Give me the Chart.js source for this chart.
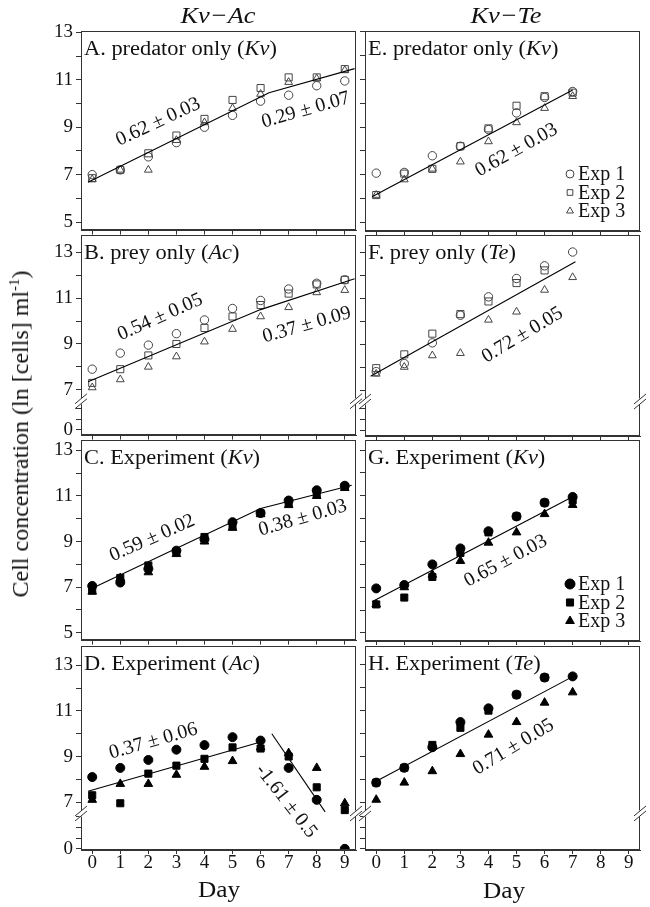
<!DOCTYPE html>
<html>
<head>
<meta charset="utf-8">
<script src="https://cdn.jsdelivr.net/npm/chart.js@4.4.1/dist/chart.umd.min.js"></script>
<style>
  body { margin: 0; width: 650px; height: 907px; position: relative; overflow: hidden; background: #fff;
         font-family: "Liberation Serif", "Times New Roman", serif; color: #111; }
  canvas { position: absolute; }
  .t { position: absolute; white-space: nowrap; line-height: 1; z-index: 2; }
  .lt { transform-origin: left center; transform: translateY(-50%) scaleX(1.12); font-size: 20px; }
  .ct { transform-origin: center center; transform: translate(-50%, -50%) scaleX(1.1); }
</style>
</head>
<body>
<div class="t ct" style="left:218px;top:15px;font-size:24px;font-style:italic">Kv−Ac</div>
<div class="t ct" style="left:506px;top:15px;font-size:24px;font-style:italic">Kv−Te</div>
<div class="t" style="left:20px;top:434px;font-size:24px;transform:translate(-50%,-50%) rotate(-90deg)">Cell concentration (ln [cells] ml<span style="font-size:15px;position:relative;top:-9px">-1</span>)</div>
<div class="t ct" style="left:219px;top:889px;font-size:23px">Day</div>
<div class="t ct" style="left:504px;top:890px;font-size:23px">Day</div>

<script>
// ---------- data (ln cells/ml), days 0..9 ----------
const days = [0, 1, 2, 3, 4, 5, 6, 7, 8, 9];

// Kv-Ac column
const aExp1 = [7.0, 7.2, 7.75, 8.35, 9.0, 9.5, 10.1, 10.35, 10.75, 10.95];
const aExp2 = [6.85, 7.2, 7.9, 8.65, 9.35, 10.15, 10.65, 11.1, 11.1, 11.45];
const aExp3 = [6.8, 7.2, 7.2, 8.45, 9.2, 9.8, 10.4, 10.9, 11.05, 11.4];
const aFit = [[-0.15, 6.68], [6.3, 10.45], [9.35, 11.47]];

const bExp1 = [7.9, 8.6, 8.95, 9.45, 10.05, 10.55, 10.9, 11.4, 11.65, 11.8];
const bExp2 = [7.3, 7.9, 8.5, 9.0, 9.7, 10.2, 10.7, 11.2, 11.6, 11.8];
const bExp3 = [7.1, 7.45, 8.0, 8.45, 9.1, 9.65, 10.2, 10.6, 11.25, 11.35];
const bFit = [[-0.15, 7.35], [6.0, 10.5], [9.35, 11.85]];

const cExp1 = [7.05, 7.2, 7.8, 8.6, 9.1, 9.85, 10.25, 10.8, 11.25, 11.45];
const cExp2 = [6.85, 7.4, 7.95, 8.55, 9.2, 9.7, 10.25, 10.7, 11.1, 11.4];
const cExp3 = [6.8, 7.4, 7.65, 8.45, 9.0, 9.6, 10.2, 10.6, 11.0, 11.35];
const cFit = [[-0.15, 6.86], [6.0, 10.45], [9.25, 11.47]];

const dExp1 = [8.1, 8.5, 8.85, 9.3, 9.5, 9.85, 9.7, 8.5, 7.1, 0];
const dExp2 = [7.3, 6.95, 8.25, 8.6, 8.9, 9.4, 9.35, 9.0, 7.65, 6.65];
const dExp3 = [7.1, 7.8, 7.8, 8.2, 8.55, 8.8, 9.4, 9.15, 8.5, 6.95];
const dFit1 = [[-0.15, 7.48], [6.0, 9.64]];
const dFit2 = [[6.4, 10.0], [8.3, 6.57]];

// Kv-Te column (days 0..7)
const eExp1 = [7.07, 7.1, 7.8, 8.2, 8.9, 9.6, 10.25, 10.5];
const eExp2 = [6.15, 7.05, 7.25, 8.2, 8.95, 9.9, 10.3, 10.45];
const eExp3 = [6.15, 6.8, 7.25, 7.55, 8.4, 9.2, 9.8, 10.3];
const eFit = [[-0.15, 6.08], [7.0, 10.56]];

const fExp1 = [7.8, 8.15, 9.05, 10.25, 11.05, 11.85, 12.4, 13.0];
const fExp2 = [7.95, 8.55, 9.45, 10.3, 10.85, 11.65, 12.2, null];
const fExp3 = [7.7, 8.0, 8.5, 8.6, 10.05, 10.4, 11.35, 11.9];
const fFit = [[-0.2, 7.6], [7.1, 12.58]];

const gExp1 = [6.95, 7.1, 8.0, 8.7, 9.45, 10.1, 10.7, 10.95];
const gExp2 = [6.25, 6.55, 7.45, 8.5, 9.4, 10.1, 10.7, 10.8];
const gExp3 = [6.25, 7.0, 7.55, 8.15, 8.95, 9.4, 10.2, 10.6];
const gFit = [[-0.15, 6.37], [7.05, 10.99]];

const hExp1 = [7.85, 8.5, 9.4, 10.5, 11.1, 11.7, 12.45, 12.5];
const hExp2 = [7.85, 8.5, 9.5, 10.25, 11.0, 11.7, 12.45, null];
const hExp3 = [7.1, 7.85, 8.35, 9.1, 9.95, 10.5, 11.35, 11.8];
const hFit = [[-0.15, 7.81], [7.0, 12.49]];

const expNames = ["Exp 1", "Exp 2", "Exp 3"];
const pointShapes = ["circle", "rect", "triangle"];

// ---------- panel layout ----------
const rows = [
  { top: 31, bottom: 231, ymin: 4.64, ymax: 13.04 },
  { top: 235, bottom: 436, ymin: 5.0, ymax: 13.74, zero: 5.25 },
  { top: 440, bottom: 641, ymin: 4.65, ymax: 13.44 },
  { top: 646, bottom: 850, ymin: 4.9, ymax: 13.83, zero: 4.95 },
];

const panels = [
  { col: 0, row: 0, filled: false, exps: [aExp1, aExp2, aExp3], fits: [aFit], title: "A. predator only (<i>Kv</i>)",
    notes: [["0.62 ± 0.03", 2.35, 9.22, -25], ["0.29 ± 0.07", 7.61, 9.72, -16]] },
  { col: 0, row: 1, filled: false, exps: [bExp1, bExp2, bExp3], fits: [bFit], title: "B. prey only (<i>Ac</i>)",
    notes: [["0.54 ± 0.05", 2.42, 10.17, -24], ["0.37 ± 0.09", 7.65, 9.83, -16]] },
  { col: 0, row: 2, filled: true, exps: [cExp1, cExp2, cExp3], fits: [cFit], title: "C. Experiment (<i>Kv</i>)",
    notes: [["0.59 ± 0.02", 2.14, 9.15, -24], ["0.38 ± 0.03", 7.5, 10.03, -16]] },
  { col: 0, row: 3, filled: true, exps: [dExp1, dExp2, dExp3], fits: [dFit1, dFit2], title: "D. Experiment (<i>Ac</i>)",
    notes: [["0.37 ± 0.06", 2.18, 9.67, -16], ["-1.61 ± 0.5", 6.91, 7.04, 52]] },
  { col: 1, row: 0, filled: false, exps: [eExp1, eExp2, eExp3], fits: [eFit], title: "E. predator only (<i>Kv</i>)",
    notes: [["0.62 ± 0.03", 5.0, 8.04, -29]], legend: true },
  { col: 1, row: 1, filled: false, exps: [fExp1, fExp2, fExp3], fits: [fFit], title: "F. prey only (<i>Te</i>)",
    notes: [["0.72 ± 0.05", 5.21, 9.39, -31]] },
  { col: 1, row: 2, filled: true, exps: [gExp1, gExp2, gExp3], fits: [gFit], title: "G. Experiment (<i>Kv</i>)",
    notes: [["0.65 ± 0.03", 4.61, 8.15, -28]], legend: true },
  { col: 1, row: 3, filled: true, exps: [hExp1, hExp2, hExp3], fits: [hFit], title: "H. Experiment (<i>Te</i>)",
    notes: [["0.71 ± 0.05", 4.89, 9.41, -31]] },
];

const cols = [
  { left: 0, width: 362, axisW: 81, padR: 2, titleX: 84 },
  { left: 330, width: 316, axisW: 35, padR: 3, titleX: 368 },
];

const SERIF = "'Liberation Serif', 'Times New Roman', serif";
const INK = "#333";

function drawExtras(chart, p, r) {
  const { ctx, chartArea: a, scales: { x, y } } = chart;
  ctx.save();
  ctx.strokeStyle = INK;
  ctx.lineWidth = 1;
  ctx.strokeRect(Math.round(a.left) + 0.5, Math.round(a.top) + 0.5, Math.round(a.right - a.left) - 1, Math.round(a.bottom - a.top) - 1);

  // axis break marks
  if (r.zero !== undefined) {
    const yb = y.getPixelForValue(6.5);
    [a.left, a.right].forEach((xb) => {
      ctx.fillStyle = "#fff";
      ctx.fillRect(xb - 2, yb - 3, 4, 6);
      ctx.beginPath();
      [-2.5, 2.5].forEach((d) => { ctx.moveTo(xb - 6, yb + d + 5); ctx.lineTo(xb + 6, yb + d - 5); });
      ctx.strokeStyle = INK;
      ctx.stroke();
    });
  }

  // slope labels
  ctx.fillStyle = "#111";
  ctx.font = "20px " + SERIF;
  ctx.textAlign = "center";
  ctx.textBaseline = "middle";
  p.notes.forEach(([t, nx, ny, ang]) => {
    ctx.save();
    ctx.translate(x.getPixelForValue(nx), y.getPixelForValue(ny));
    ctx.rotate(ang * Math.PI / 180);
    ctx.fillText(t, 0, 0);
    ctx.restore();
  });

  // legend (E and G)
  if (p.legend) {
    ctx.font = "20px " + SERIF;
    ctx.textAlign = "left";
    expNames.forEach((name, i) => {
      const yy = a.bottom - 57 + i * 18.5;
      ctx.fillStyle = p.filled ? "#000" : "rgba(0,0,0,0)";
      ctx.strokeStyle = p.filled ? "#000" : "#444";
      ctx.lineWidth = 1;
      Chart.helpers.drawPoint(ctx, { pointStyle: pointShapes[i], radius: p.filled ? 5 : 4, borderWidth: 1, rotation: 0 }, a.right - 70, yy);
      ctx.fillStyle = "#111";
      ctx.fillText(name, a.right - 62, yy + 1);
    });
  }
  ctx.restore();
}

function makePanel(p) {
  const c = cols[p.col];
  const r = rows[p.row];
  const bottomRow = p.row === 3;
  const xh = bottomRow ? 30 : 14;
  const h = 14 + (r.bottom - r.top) + xh;

  const cv = document.createElement("canvas");
  cv.width = c.width; cv.height = h;
  cv.style.left = c.left + "px"; cv.style.top = (r.top - 14) + "px";
  cv.style.width = c.width + "px"; cv.style.height = h + "px";
  document.body.appendChild(cv);

  const title = document.createElement("div");
  title.className = "t lt";
  title.style.left = c.titleX + "px";
  title.style.top = (r.top + 17) + "px";
  title.innerHTML = p.title;
  document.body.appendChild(title);

  const mapY = (v) => (v === null || v === undefined ? null : (v < 3 ? r.zero + v : v));
  const yTicks = [];
  if (r.zero !== undefined) {
    const n = p.row === 3 ? 4 : 3;
    for (let k = 0; k < n; k++) yTicks.push(r.zero + k * 0.47);
    for (let v = 7; v <= 13; v++) yTicks.push(v);
  } else {
    for (let v = 5; v <= 13; v++) yTicks.push(v);
  }

  const datasets = [];
  p.fits.forEach((f) => datasets.push({
    data: f.map(([fx, fy]) => ({ x: fx, y: fy })),
    showLine: true, pointRadius: 0, borderColor: "#000", borderWidth: 1.1, fill: false,
  }));
  p.exps.forEach((exp, i) => datasets.push({
    data: exp.map((v, k) => ({ x: days[k], y: mapY(v) })).filter((pt) => pt.y !== null),
    showLine: false,
    pointStyle: pointShapes[i],
    pointRadius: p.filled ? [4.5, 5, 5][i] : [4.2, 5, 4.5][i],
    pointBorderWidth: 1,
    pointBorderColor: p.filled ? "#000" : "#444",
    pointBackgroundColor: p.filled ? "#000" : "rgba(0,0,0,0)",
  }));

  const tickFont = { family: SERIF, size: 19 };
  new Chart(cv, {
    type: "scatter",
    data: { datasets },
    options: {
      responsive: false, animation: false, devicePixelRatio: 1,
      layout: { padding: { left: 0, right: c.padR, top: 14, bottom: 0 } },
      plugins: { legend: { display: false }, tooltip: { enabled: false } },
      scales: {
        x: {
          type: "linear", min: -0.4, max: 9.4,
          afterBuildTicks: (s) => { s.ticks = days.map((v) => ({ value: v })); },
          afterFit: (s) => { s.height = xh; },
          grid: { display: true, drawOnChartArea: false, drawTicks: true, tickLength: 4, color: INK },
          border: { display: true, color: INK },
          ticks: { display: bottomRow, font: tickFont, color: "#111", padding: -2, maxRotation: 0, autoSkip: false },
        },
        y: {
          type: "linear", min: r.ymin, max: r.ymax,
          afterBuildTicks: (s) => { s.ticks = yTicks.map((v) => ({ value: v })); },
          afterFit: (s) => { s.width = c.axisW; },
          grid: { display: true, drawOnChartArea: false, drawTicks: true, tickLength: 5, color: INK },
          border: { display: true, color: INK },
          ticks: {
            display: p.col === 0, font: tickFont, color: "#111", padding: 3, autoSkip: false,
            callback: (v) => {
              if (r.zero !== undefined && Math.abs(v - r.zero) < 1e-6) return "0";
              return Number.isInteger(v) && v % 2 === 1 ? String(v) : "";
            },
          },
        },
      },
    },
    plugins: [{ id: "extras", afterDraw: (chart) => drawExtras(chart, p, r) }],
  });
}

panels.forEach(makePanel);
</script>
</body>
</html>
